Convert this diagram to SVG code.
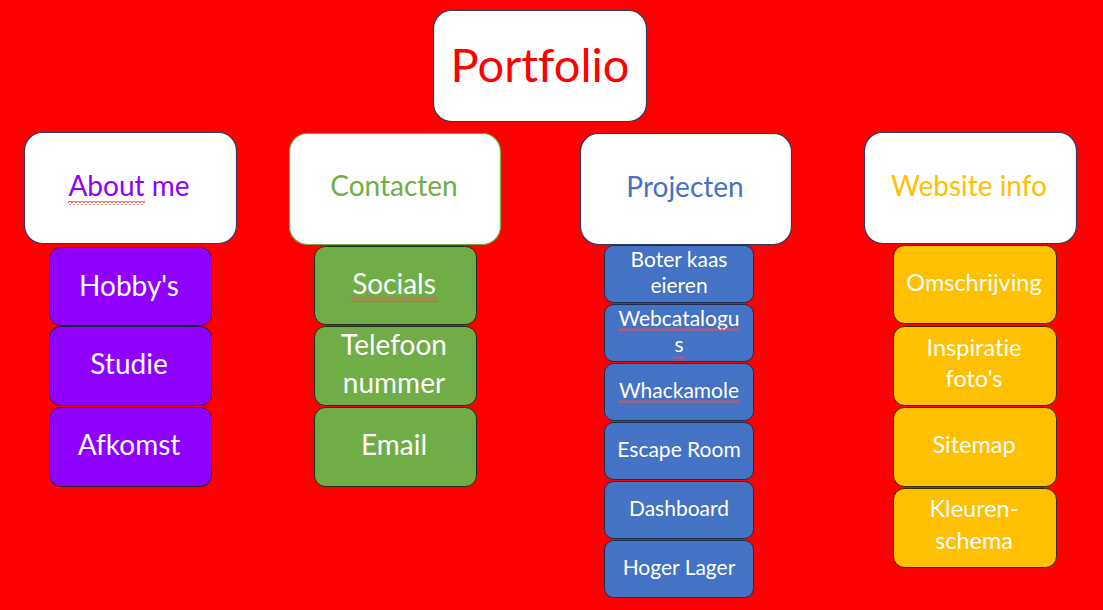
<svg xmlns="http://www.w3.org/2000/svg" width="1103" height="610" viewBox="0 0 1103 610">
  <style>
    text { font-family: Lato, "Open Sans", "Liberation Sans", sans-serif; text-anchor: middle; font-variant-ligatures: none; font-feature-settings: "liga" 0, "dlig" 0; }
    .head { fill: #ffffff; stroke: #2f3b5c; stroke-width: 1.2; }
    .head-green { fill: #ffffff; stroke: #70ad47; stroke-width: 1.2; }
    .purple { fill: #8f00ff; stroke: #1f1f3a; stroke-width: 1; }
    .green { fill: #70ad47; stroke: #1f2a1a; stroke-width: 1; }
    .blue { fill: #4472c4; stroke: #1f2d4a; stroke-width: 1; }
    .yellow { fill: #ffc000; stroke: #3a2a00; stroke-width: 1; }
    .htxt { font-size: 28px; }
    .ctxt { fill: #ffffff; font-size: 28px; }
    .btxt { fill: #ffffff; font-size: 21px; }
    .ytxt { fill: #ffffff; font-size: 23.5px; }
  </style>
  <defs>
    <!-- red wavy spell-check underline -->
    <pattern id="wave" width="4" height="4" patternUnits="userSpaceOnUse">
      <path d="M0,3 L1,1.5 L2,0.5 L3,1.5 L4,3" fill="none" stroke="#e85050" stroke-width="1.1"/>
    </pattern>
  </defs>

  <rect x="0" y="0" width="1103" height="610" fill="#ff0000"/>

  <g id="portfolio">
    <rect class="head" x="433.5" y="10.5" width="213" height="111" rx="18"/>
    <text x="540" y="82" fill="#ff0000" font-size="47">Portfolio</text>
  </g>

  <g id="about-me">
    <rect class="head" x="24.5" y="132.5" width="212" height="111" rx="18"/>
    <text class="htxt" x="129" y="196" fill="#8f00ff">About me</text>
    <rect x="68" y="201" width="77" height="4" fill="url(#wave)"/>
  </g>
  <g id="contacten">
    <rect class="head-green" x="289.5" y="133.5" width="211" height="111" rx="18"/>
    <text class="htxt" x="394" y="196" fill="#70ad47">Contacten</text>
  </g>
  <g id="projecten">
    <rect class="head" x="580.5" y="133.5" width="211" height="111" rx="18"/>
    <text class="htxt" x="685" y="197" fill="#4472c4">Projecten</text>
  </g>
  <g id="website-info">
    <rect class="head" x="864.5" y="132.5" width="212" height="111" rx="18"/>
    <text class="htxt" x="969" y="196" fill="#ffc000">Website info</text>
  </g>

  <!-- About me items -->
  <g id="hobbys">
    <rect class="purple" x="49.5" y="247.5" width="162" height="78" rx="11"/>
    <text class="ctxt" x="129" y="296">Hobby's</text>
  </g>
  <g id="studie">
    <rect class="purple" x="49.5" y="326.5" width="162" height="79" rx="11"/>
    <text class="ctxt" x="129" y="374">Studie</text>
  </g>
  <g id="afkomst">
    <rect class="purple" x="49.5" y="407.5" width="162" height="79" rx="11"/>
    <text class="ctxt" x="129" y="455">Afkomst</text>
  </g>

  <!-- Contacten items -->
  <g id="socials">
    <rect class="green" x="314.5" y="246.5" width="162" height="78" rx="11"/>
    <text class="ctxt" x="394" y="294">Socials</text>
    <rect x="351" y="298" width="87" height="4" fill="url(#wave)"/>
  </g>
  <g id="telefoon">
    <rect class="green" x="314.5" y="326.5" width="162" height="79" rx="11"/>
    <text class="ctxt" x="394" y="355">Telefoon</text>
    <text class="ctxt" x="394" y="393">nummer</text>
  </g>
  <g id="email">
    <rect class="green" x="314.5" y="407.5" width="162" height="79" rx="11"/>
    <text class="ctxt" x="394" y="455">Email</text>
  </g>

  <!-- Projecten items -->
  <g id="boter-kaas-eieren">
    <rect class="blue" x="604.5" y="245.5" width="149" height="57" rx="9"/>
    <text class="btxt" x="679" y="267">Boter kaas</text>
    <text class="btxt" x="679" y="293">eieren</text>
  </g>
  <g id="webcatalogus">
    <rect class="blue" x="604.5" y="304.5" width="149" height="57" rx="9"/>
    <text class="btxt" x="679" y="326">Webcatalogu</text>
    <text class="btxt" x="679" y="352">s</text>
    <rect x="618" y="328" width="122" height="4" fill="url(#wave)"/>
    <rect x="673" y="355" width="12" height="4" fill="url(#wave)"/>
  </g>
  <g id="whackamole">
    <rect class="blue" x="604.5" y="363.5" width="149" height="57" rx="9"/>
    <text class="btxt" x="679" y="398">Whackamole</text>
    <rect x="618" y="400" width="122" height="4" fill="url(#wave)"/>
  </g>
  <g id="escape-room">
    <rect class="blue" x="604.5" y="422.5" width="149" height="57" rx="9"/>
    <text class="btxt" x="679" y="457">Escape Room</text>
  </g>
  <g id="dashboard">
    <rect class="blue" x="604.5" y="481.5" width="149" height="57" rx="9"/>
    <text class="btxt" x="679" y="516">Dashboard</text>
  </g>
  <g id="hoger-lager">
    <rect class="blue" x="604.5" y="540.5" width="149" height="57" rx="9"/>
    <text class="btxt" x="679" y="575">Hoger Lager</text>
  </g>

  <!-- Website info items -->
  <g id="omschrijving">
    <rect class="yellow" x="893.5" y="245.5" width="163" height="78" rx="11"/>
    <text class="ytxt" x="974" y="291">Omschrijving</text>
  </g>
  <g id="inspiratie">
    <rect class="yellow" x="893.5" y="326.5" width="163" height="79" rx="11"/>
    <text class="ytxt" x="974" y="356">Inspiratie</text>
    <text class="ytxt" x="974" y="387">foto's</text>
  </g>
  <g id="sitemap">
    <rect class="yellow" x="893.5" y="407.5" width="163" height="79" rx="11"/>
    <text class="ytxt" x="974" y="453">Sitemap</text>
  </g>
  <g id="kleurenschema">
    <rect class="yellow" x="893.5" y="488.5" width="163" height="79" rx="11"/>
    <text class="ytxt" x="974" y="517">Kleuren-</text>
    <text class="ytxt" x="974" y="549">schema</text>
  </g>

  <g id="connectors"></g>
</svg>
